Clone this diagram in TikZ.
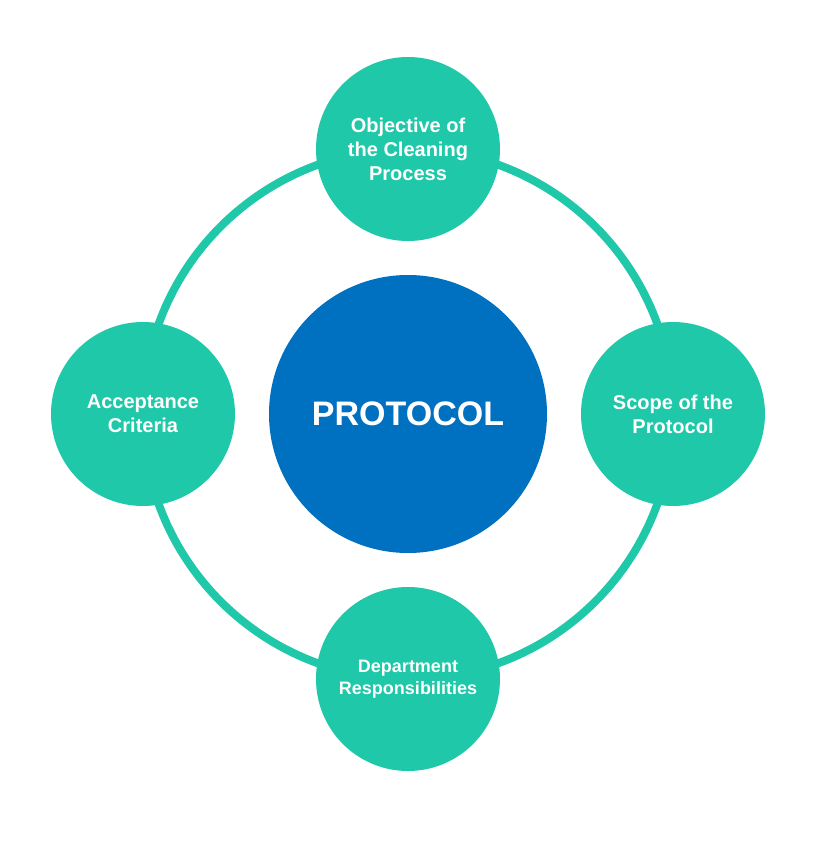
\documentclass[tikz,border=0pt]{standalone}
\usepackage{fontspec}
\setmainfont{Liberation Sans}
\usetikzlibrary{positioning}
\definecolor{mint}{HTML}{1EC8A8}
\definecolor{hubblue}{HTML}{0070C0}
\tikzset{
	ring/.style={draw=mint,line width=8pt},
	hub/.style={circle,fill=hubblue,minimum size=278pt,inner sep=0pt,text=white,font=\bfseries\fontsize{34}{40}\selectfont},
	stepbox/.style={circle,fill=mint,minimum size=184pt,inner sep=0pt,text=white,align=center,font=\bfseries\fontsize{20}{24}\selectfont}
}
\begin{document}
\begin{tikzpicture}[x=1pt,y=1pt]
		\useasboundingbox (-408,-432) rectangle (427,414);
		\draw[ring] (0,0) circle (265);
		
		\node[hub] (protocol) at (0,0) {PROTOCOL};
		\node[stepbox] (objective) at (0,265) {Objective of\\the Cleaning\\Process};
		\node[stepbox] (scope) at (265,0) {Scope of the\\Protocol};
		\node[stepbox,font=\bfseries\fontsize{18}{22}\selectfont] (department) at (0,-265) {Department\\Responsibilities};
		\node[stepbox] (acceptance) at (-265,0) {Acceptance\\Criteria};
	\end{tikzpicture}
\end{document}
